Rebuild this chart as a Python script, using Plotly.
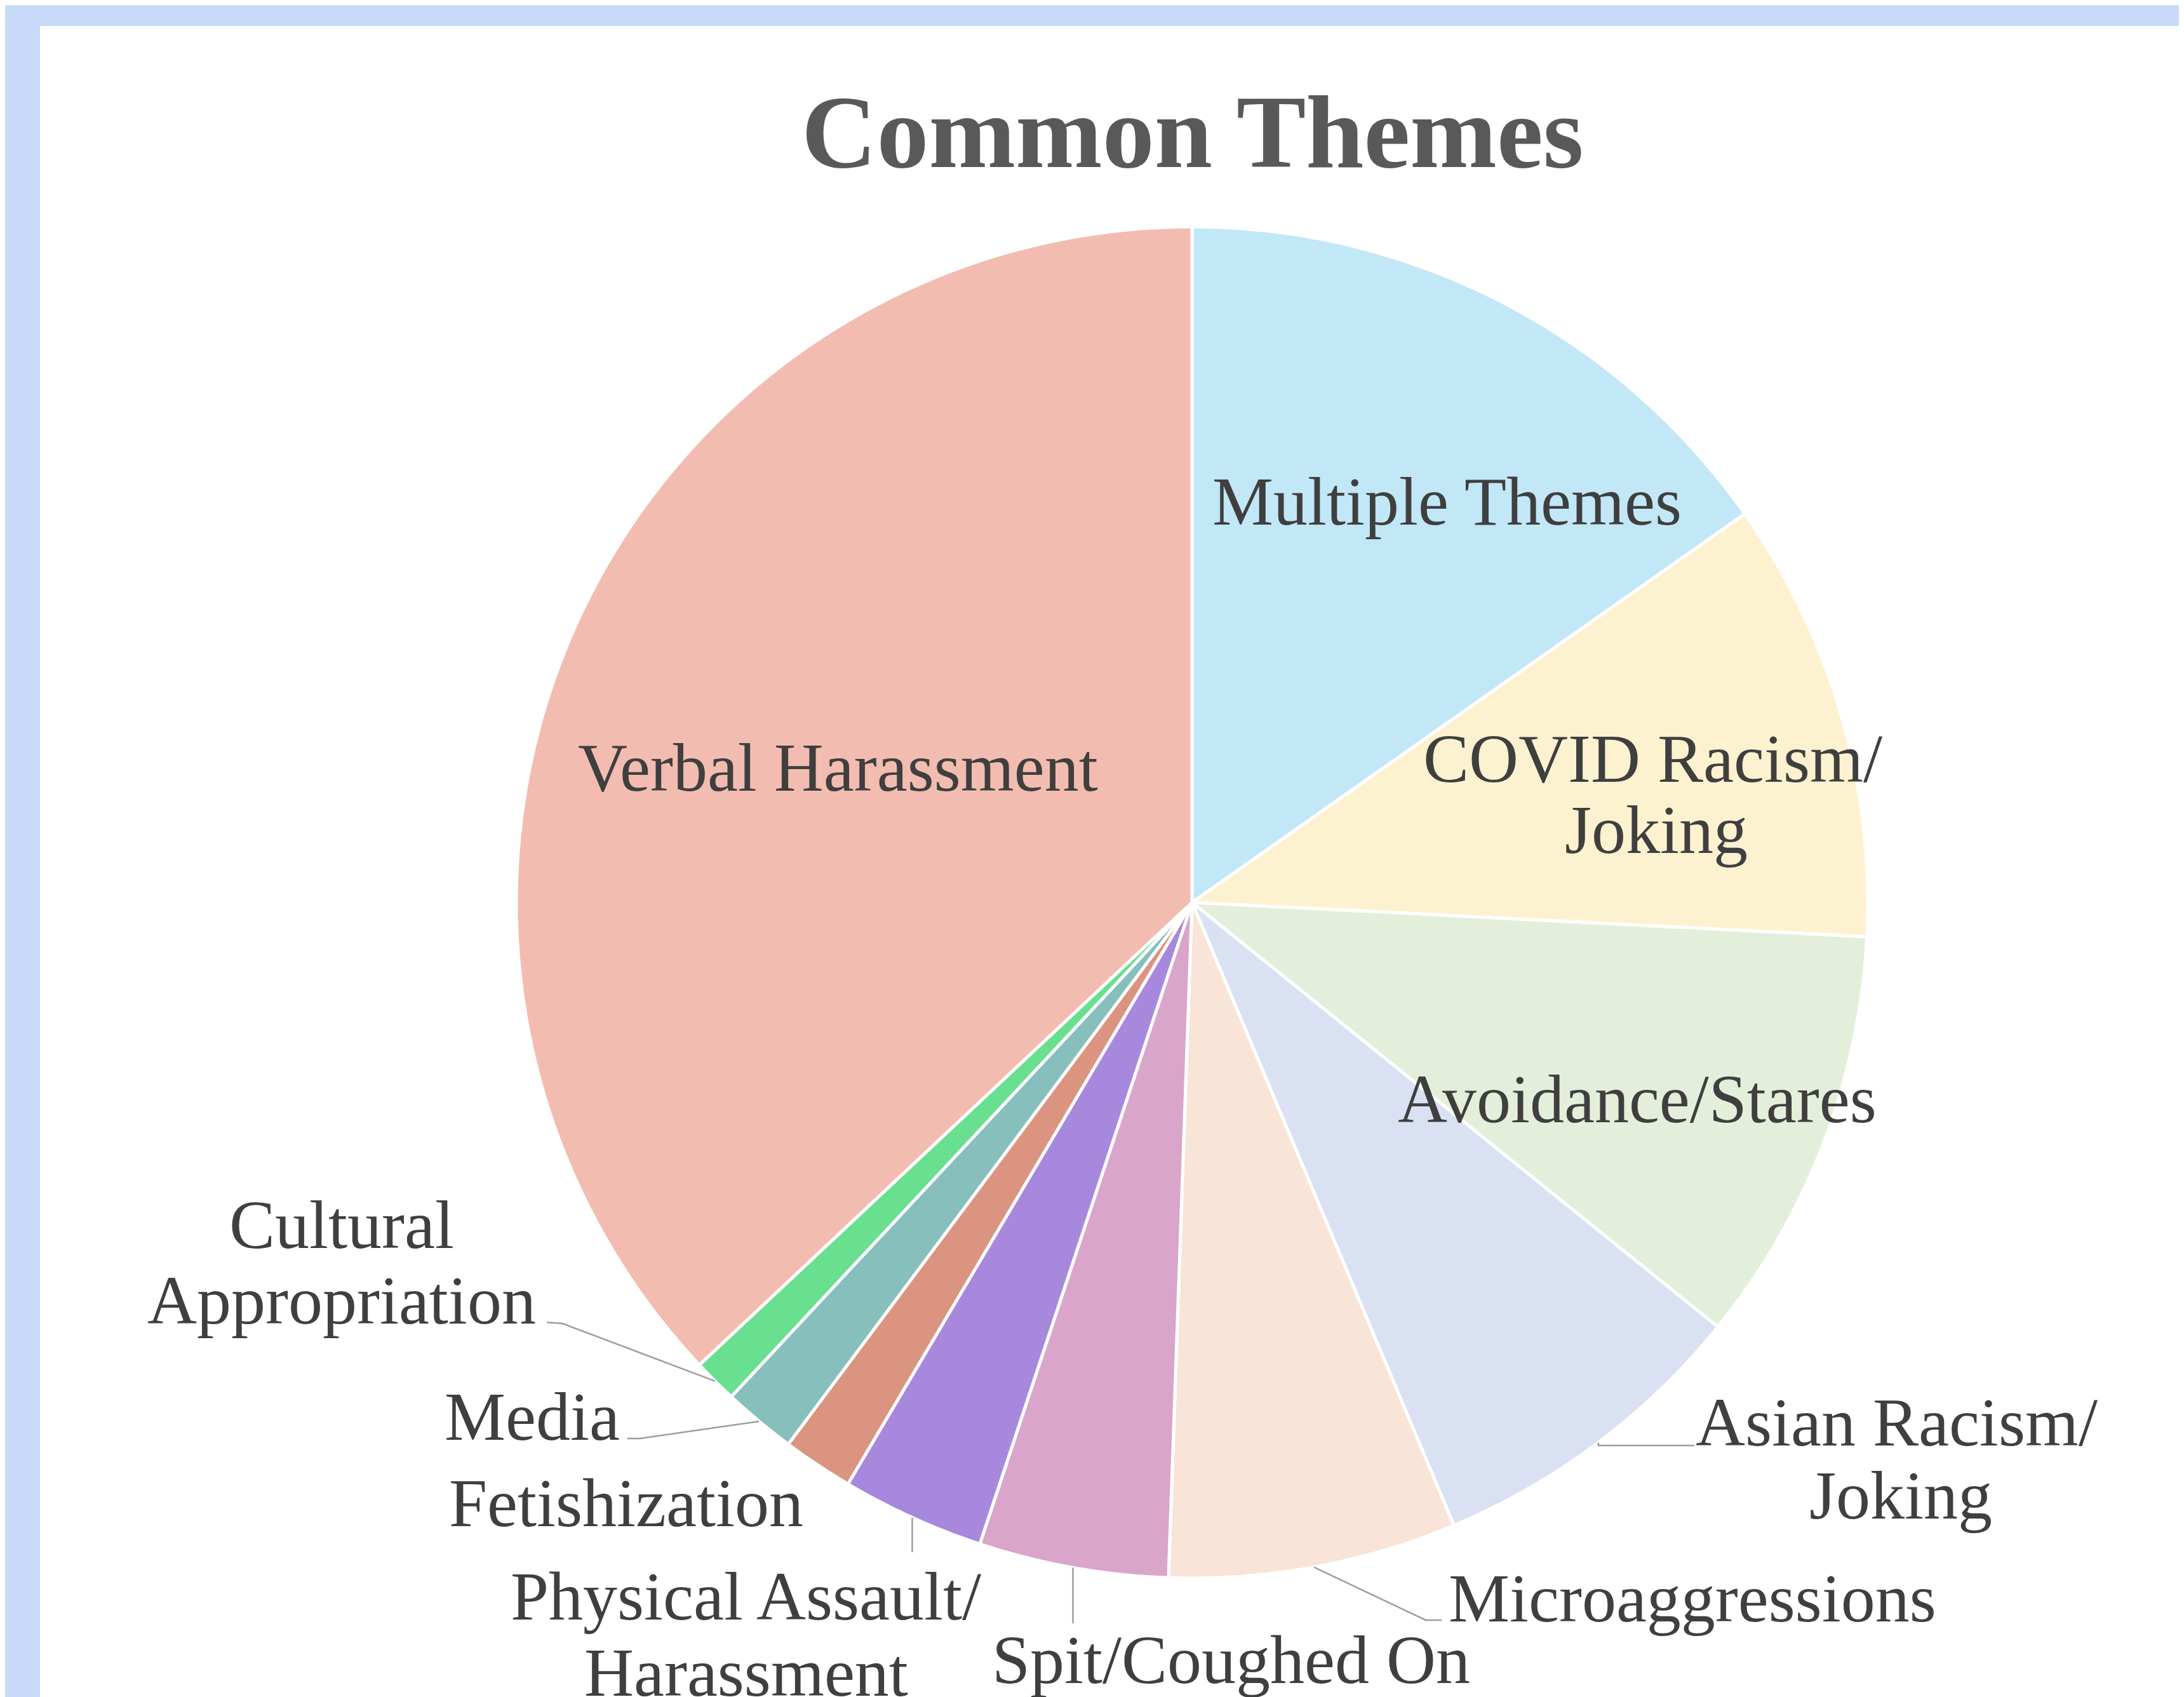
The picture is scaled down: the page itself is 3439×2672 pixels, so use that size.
import math
import plotly.graph_objects as go

# ---------------- data ----------------
categories = [
    "Multiple Themes",
    "COVID Racism/Joking",
    "Avoidance/Stares",
    "Asian Racism/Joking",
    "Microaggressions",
    "Spit/Coughed On",
    "Physical Assault/Harassment",
    "Fetishization",
    "Media",
    "Cultural Appropriation",
    "Verbal Harassment",
]
shares = [15.25, 10.56, 10.0, 7.86, 6.89, 4.53, 3.42, 1.69, 1.75, 1.06, 37.0]
colors = [
    "#C2E7F7", "#FDF2D0", "#E3EFDA", "#DAE1F2", "#F8E5D8", "#D9A5CB",
    "#A888DC", "#DA9480", "#86BFBB", "#68E08F", "#F3BCB0",
]

# ---------------- layout constants (pixels) ----------------
W, H = 3439, 2672
CX, CY, R = 1869, 1413, 1064
LABEL_SIZE = 108
TITLE_SIZE = 164
FONT = "Liberation Serif, Times New Roman, serif"


def px(x):
    return x / W


def py(y):
    return 1 - y / H


# label text lines: (text, center x, baseline y)
label_lines = {
    "Verbal Harassment": [("Verbal Harassment", 1311, 1237)],
    "Multiple Themes": [("Multiple Themes", 2270, 818)],
    "COVID Racism/Joking": [("COVID Racism/", 2594, 1223), ("Joking", 2600, 1335)],
    "Avoidance/Stares": [("Avoidance/Stares", 2570, 1759)],
    "Asian Racism/Joking": [("Asian Racism/", 2978, 2268), ("Joking", 2985, 2383)],
    "Microaggressions": [("Microaggressions", 2657, 2545)],
    "Spit/Coughed On": [("Spit/Coughed On", 1931, 2642)],
    "Physical Assault/Harassment": [("Physical Assault/", 1166, 2542), ("Harassment", 1167, 2662)],
    "Fetishization": [("Fetishization", 978, 2395)],
    "Media": [("Media", 830, 2259)],
    "Cultural Appropriation": [("Cultural", 530, 1957), ("Appropriation", 530, 2076)],
}

# leader line bends (from slice edge toward label), pixels
leader_bends = {
    "Cultural Appropriation": [(878, 2076), (853, 2074)],
    "Media": [(1000, 2257), (980, 2257)],
    "Physical Assault/Harassment": [("same", 2436)],
    "Spit/Coughed On": [("same", 2548)],
    "Microaggressions": [(2237, 2543), (2262, 2543)],
    "Asian Racism/Joking": [(2509, 2268), (2660, 2268)],
}

fig = go.Figure(
    go.Pie(
        labels=categories,
        values=shares,
        sort=False,
        direction="clockwise",
        rotation=0,
        textinfo="none",
        hoverinfo="label+percent",
        marker=dict(colors=colors, line=dict(color="#FFFFFF", width=5)),
        domain=dict(x=[px(CX - R), px(CX + R)], y=[py(CY + R), py(CY - R)]),
        showlegend=False,
    )
)

annotations = [
    dict(
        text="<b>Common Themes</b>",
        x=px(1870), y=py(255 - 0.34 * TITLE_SIZE),
        xref="paper", yref="paper", xanchor="center", yanchor="middle",
        showarrow=False,
        font=dict(family=FONT, size=TITLE_SIZE, color="#595959"),
    )
]
for cat in categories:
    for text, x, yb in label_lines[cat]:
        annotations.append(
            dict(
                text=text,
                x=px(x), y=py(yb - 0.34 * LABEL_SIZE),
                xref="paper", yref="paper", xanchor="center", yanchor="middle",
                showarrow=False,
                font=dict(family=FONT, size=LABEL_SIZE, color="#3F3F3F"),
            )
        )

shapes = [
    dict(type="rect", xref="paper", yref="paper",
         x0=px(55), x1=1.0, y0=0.0, y1=py(33),
         fillcolor="#FFFFFF", line=dict(width=0), layer="below"),
]

total = sum(shares)
cum = 0.0
for cat, v in zip(categories, shares):
    mid = (cum + v / 2) / total * 360.0
    cum += v
    if cat not in leader_bends:
        continue
    sx = CX + R * math.sin(math.radians(mid))
    sy = CY - R * math.cos(math.radians(mid))
    pts = [(sx, sy)]
    for bx, by in leader_bends[cat]:
        if bx == "same":
            bx = sx
        pts.append((bx, by))
    path = "M " + " L ".join(f"{px(a):.5f},{py(b):.5f}" for a, b in pts)
    shapes.append(dict(type="path", xref="paper", yref="paper", path=path,
                       line=dict(color="#9E9E9E", width=2.5)))

fig.update_layout(
    width=W, height=H,
    margin=dict(l=0, r=0, t=0, b=0),
    paper_bgcolor="#C9DAF8",
    plot_bgcolor="#FFFFFF",
    annotations=annotations,
    shapes=shapes,
)

fig.write_html("out.html")
